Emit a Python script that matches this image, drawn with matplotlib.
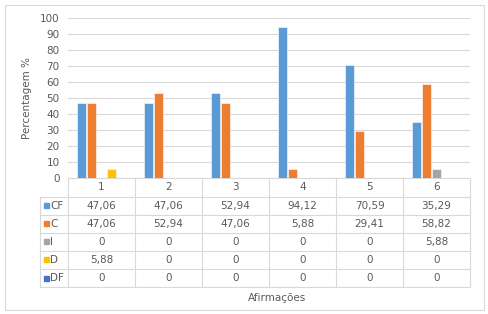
import matplotlib
matplotlib.use('Agg')
import matplotlib.pyplot as plt
import matplotlib.transforms as mtrans
from matplotlib.patches import Rectangle
import numpy as np

# dados
afirmacoes = ['1', '2', '3', '4', '5', '6']
series = ['CF', 'C', 'I', 'D', 'DF']
cf = [47.06, 47.06, 52.94, 94.12, 70.59, 35.29]
c = [47.06, 52.94, 47.06, 5.88, 29.41, 58.82]
ind = [0, 0, 0, 0, 0, 5.88]
d = [5.88, 0, 0, 0, 0, 0]
df = [0, 0, 0, 0, 0, 0]
valores = [cf, c, ind, d, df]
cores = ['#5B9BD5', '#ED7D31', '#A5A5A5', '#FFC000', '#4472C4']

W, H = 488, 314
cinza = '#595959'
linha = '#D9D9D9'


def fmt(v):
    if v == 0:
        return '0'
    return f'{v:.2f}'.replace('.', ',')


fig = plt.figure(figsize=(W / 100, H / 100), dpi=100)
fig.add_artist(Rectangle((5 / W, 1 - 310 / H), 479 / W, 305 / H,
                         transform=fig.transFigure, fill=False,
                         edgecolor='#D9D9D9', lw=0.8))

# area do grafico em pixels: x 68-470, y 18-178
ax = fig.add_axes([68 / W, 1 - 178 / H, 402 / W, 160 / H])
x = np.arange(1, len(afirmacoes) + 1)
passo = 0.148
for k, (nome, vals, cor) in enumerate(zip(series, valores, cores)):
    ax.bar(x + (k - 2) * passo, vals, width=0.125, color=cor,
           edgecolor='white', linewidth=0.4, zorder=3)

ax.set_xlim(0.5, 6.5)
ax.set_ylim(0, 100)
ax.set_yticks(range(0, 101, 10))
ax.set_xticks([])
ax.grid(axis='y', color=linha, lw=0.8, zorder=0)
for s in ax.spines.values():
    s.set_visible(False)
ax.tick_params(axis='y', length=0, labelsize=7.5, labelcolor=cinza, pad=6)
ax.set_ylabel('Percentagem %', fontsize=7.5, color=cinza, labelpad=6)

# tabela de dados abaixo do grafico
tr = mtrans.blended_transform_factory(ax.transData, ax.transAxes)
px = 1 / 160
bordas = [0, 18.7, 36.5, 54.7, 72.8, 91, 109.3]
x_esq = 0.5 - 28 / 67

# linhas horizontais
ax.plot([0.5, 6.5], [0, 0], transform=tr, color=linha, lw=0.8, clip_on=False)
for b in bordas[1:]:
    ax.plot([x_esq, 6.5], [-b * px, -b * px], transform=tr, color=linha,
            lw=0.8, clip_on=False)
# linhas verticais
for xv in np.arange(0.5, 7, 1):
    ax.plot([xv, xv], [0, -bordas[-1] * px], transform=tr, color=linha,
            lw=0.8, clip_on=False)
ax.plot([x_esq, x_esq], [-bordas[1] * px, -bordas[-1] * px], transform=tr,
        color=linha, lw=0.8, clip_on=False)

# cabecalho
ymeio = -(bordas[0] + bordas[1]) / 2 * px
for xi, a in zip(x, afirmacoes):
    ax.text(xi, ymeio, a, transform=tr, ha='center', va='center',
            fontsize=7.5, color=cinza)

# linhas das series
for k, (nome, vals, cor) in enumerate(zip(series, valores, cores)):
    ym = -(bordas[k + 1] + bordas[k + 2]) / 2 * px
    ax.add_patch(Rectangle((0.5 - 24 / 67, ym - 2.5 * px), 5 / 67, 5 * px,
                           transform=tr, color=cor, clip_on=False))
    ax.text(0.5 - 18 / 67, ym, nome, transform=tr, ha='left', va='center',
            fontsize=7.5, color=cinza)
    for xi, v in zip(x, vals):
        ax.text(xi, ym, fmt(v), transform=tr, ha='center', va='center',
                fontsize=7.5, color=cinza)

fig.text(277 / W, 1 - 298 / H, 'Afirmações', ha='center', va='center',
         fontsize=7.5, color=cinza)

plt.savefig('out.png', dpi=100)
